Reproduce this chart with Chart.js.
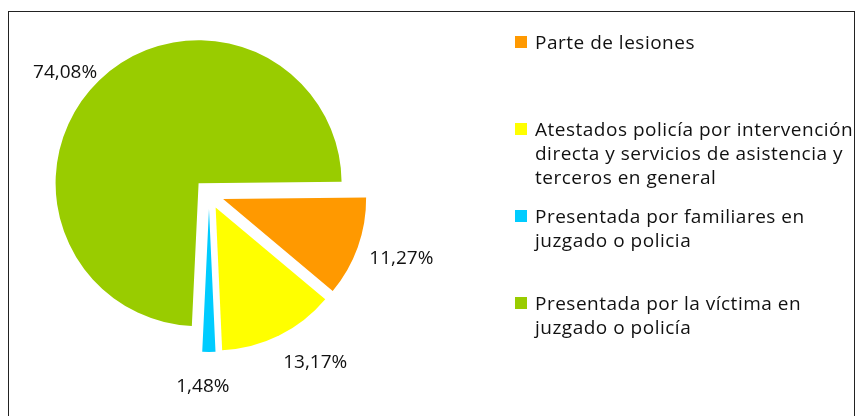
<!DOCTYPE html>
<html lang="es">
<head>
<meta charset="utf-8">
<script src="https://cdn.jsdelivr.net/npm/chart.js@4/dist/chart.umd.min.js"></script>
<style>
  html, body { margin: 0; padding: 0; background: #fff; }
  #wrap { position: relative; width: 858px; height: 416px; overflow: hidden; }
  #frame { position: absolute; left: 8px; top: 11px; width: 845px; height: 430px; border: 1px solid #222; }
  #chart { position: absolute; left: 0; top: 0; }
  #legend { position: absolute; left: 515px; top: 30px; font-family: "Open Sans", sans-serif; font-size: 19px; letter-spacing: 0.5px; color: #111; }
  .item { position: relative; height: 87px; line-height: 24px; padding-left: 20px; white-space: nowrap; }
  .box { position: absolute; left: 0; top: 6px; width: 12px; height: 12px; }
</style>
</head>
<body>
<div id="wrap">
  <div id="frame"></div>
  <canvas id="chart" width="858" height="416"></canvas>
  <div id="legend"></div>
</div>
<script>
// --- Datos ---
const categorias = [
  ["Parte de lesiones"],
  ["Atestados policía por intervención", "directa y servicios de asistencia y", "terceros en general"],
  ["Presentada por familiares en", "juzgado o policia"],
  ["Presentada por la víctima en", "juzgado o policía"]
];
const porcentajes = [11.27, 13.17, 1.48, 74.08];
const colores = ["#FF9900", "#FFFF00", "#00CCFF", "#99CC00"];

const SHIFT = 15;     // separación de las porciones
const PAD = 12;       // distancia etiqueta - porción
const labelNudge = [[1, -4], [21, -4], [-6, 14], [-6, 22]];
const fmt = v => v.toFixed(2).replace(".", ",") + "%";

// --- Porciones separadas ---
const explode = {
  id: "explode",
  beforeDatasetDraw(chart, args) {
    const ctx = chart.ctx;
    args.meta.data.forEach(arc => {
      const mid = (arc.startAngle + arc.endAngle) / 2;
      ctx.save();
      ctx.translate(Math.cos(mid) * SHIFT, Math.sin(mid) * SHIFT);
      arc.draw(ctx);
      ctx.restore();
    });
    return false;
  }
};

// --- Etiquetas de porcentaje ---
const pctLabels = {
  id: "pctLabels",
  afterDatasetsDraw(chart) {
    const ctx = chart.ctx;
    const meta = chart.getDatasetMeta(0);
    ctx.save();
    ctx.font = '19px "Open Sans", sans-serif';
    ctx.fillStyle = "#111";
    ctx.textAlign = "center";
    ctx.textBaseline = "middle";
    meta.data.forEach((arc, i) => {
      const txt = fmt(porcentajes[i]);
      const w = ctx.measureText(txt).width, h = 18;
      const mid = (arc.startAngle + arc.endAngle) / 2;
      const dx = Math.cos(mid), dy = Math.sin(mid);
      const d = arc.outerRadius + SHIFT + PAD + Math.abs(dx) * w / 2 + Math.abs(dy) * h / 2;
      ctx.fillText(txt, arc.x + dx * d + labelNudge[i][0], arc.y + dy * d + labelNudge[i][1]);
    });
    ctx.restore();
  }
};

// --- Leyenda ---
function buildLegend() {
  const el = document.getElementById("legend");
  el.innerHTML = categorias.map((lines, i) => `
    <div class="item"><span class="box" style="background:${colores[i]}"></span>${lines.join("<br>")}</div>`).join("");
}

// --- Init ---
document.addEventListener("DOMContentLoaded", () => {
  buildLegend();
  new Chart(document.getElementById("chart"), {
    type: "pie",
    data: {
      labels: categorias,
      datasets: [{ data: porcentajes, backgroundColor: colores, borderWidth: 0 }]
    },
    options: {
      responsive: false,
      animation: false,
      rotation: 89.4,
      layout: { padding: { left: 66, right: 506, top: 51, bottom: 79 } },
      plugins: { legend: { display: false }, tooltip: { enabled: false } }
    },
    plugins: [explode, pctLabels]
  });
});
</script>
</body>
</html>
